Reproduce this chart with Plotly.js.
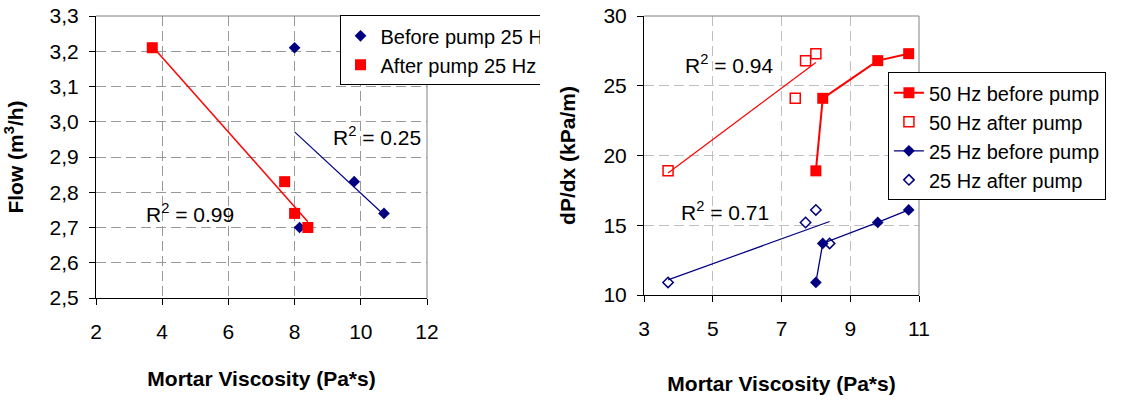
<!DOCTYPE html>
<html><head><meta charset="utf-8">
<script src="https://cdn.plot.ly/plotly-3.0.1.min.js"></script>
<style>
body{margin:0;background:#fff;}
#c1{position:absolute;left:0;top:0;width:540px;height:402px;overflow:hidden;}
#c2{position:absolute;left:540px;top:0;width:588px;height:402px;overflow:hidden;background:#fff;}
</style>
</head><body><div id="c1"></div><div id="c2"></div>
<script>
// ---- Left chart: Flow vs mortar viscosity ----
const flowBeforeVisc = [8.0, 8.15, 9.8, 10.7];
const flowBefore     = [3.21, 2.70, 2.83, 2.74];
const flowAfterVisc  = [3.7, 7.7, 8.0, 8.4];
const flowAfter      = [3.21, 2.83, 2.74, 2.70];
const flowNames = ['Before pump 25 Hz', 'After pump 25 Hz'];
const flowR2Text = ['R<sup>2</sup> = 0.25', 'R<sup>2</sup> = 0.99'];
const flowR2Pos  = [[10.49, 2.96], [4.83, 2.74]];

// ---- Right chart: dP/dx vs mortar viscosity ----
const hz50BeforeVisc = [8.0, 8.2, 9.8, 10.7];
const hz50Before     = [18.9, 24.1, 26.8, 27.3];
const hz50AfterVisc  = [3.7, 7.4, 7.7, 8.0];
const hz50After      = [18.9, 24.1, 26.8, 27.3];
const hz25BeforeVisc = [8.0, 8.2, 9.8, 10.7];
const hz25Before     = [10.9, 13.7, 15.2, 16.1];
const hz25AfterVisc  = [3.7, 7.7, 8.0, 8.4];
const hz25After      = [10.9, 15.2, 16.1, 13.7];
const dpNames = ['50 Hz before pump', '50 Hz after pump', '25 Hz before pump', '25 Hz after pump'];
const dpR2Text = ['R<sup>2</sup> = 0.94', 'R<sup>2</sup> = 0.71'];
const dpR2Pos  = [[5.46, 26.54], [5.36, 16.02]];

const RED = '#FF0000', NAVY = '#000080';
const FAMILY = 'Liberation Sans, Arial, sans-serif';
const FONT = {family: FAMILY, size: 21, color: '#000'};
const LEGFONT = {family: FAMILY, size: 20, color: '#000'};

function fitLine(xs, ys) {
  const n = xs.length;
  const mx = xs.reduce((a, b) => a + b, 0) / n;
  const my = ys.reduce((a, b) => a + b, 0) / n;
  let sxy = 0, sxx = 0;
  for (let i = 0; i < n; i++) { sxy += (xs[i] - mx) * (ys[i] - my); sxx += (xs[i] - mx) ** 2; }
  const b = sxy / sxx, a = my - b * mx;
  const x0 = Math.min(...xs), x1 = Math.max(...xs);
  return {x: [x0, x1], y: [a + b * x0, a + b * x1]};
}

function axisBase(gridcolor) {
  return {
    showline: true, linecolor: '#000', linewidth: 1,
    ticks: 'outside', ticklen: 6, tickcolor: '#000', tickwidth: 1,
    showgrid: true, gridcolor: gridcolor, griddash: '10px,5px', gridwidth: 1,
    zeroline: false, tickfont: FONT, fixedrange: true
  };
}

function borderShapes() {
  return [
    {type: 'line', xref: 'x domain', yref: 'y domain', x0: 0, x1: 1, y0: 1, y1: 1, line: {color: '#808080', width: 1}},
    {type: 'line', xref: 'x domain', yref: 'y domain', x0: 1, x1: 1, y0: 0, y1: 1, line: {color: '#808080', width: 1}}
  ];
}

function r2Annotations(texts, pos) {
  return texts.map((t, i) => ({
    text: t, x: pos[i][0], y: pos[i][1], xref: 'x', yref: 'y',
    showarrow: false, font: FONT, xanchor: 'center', yanchor: 'middle'
  }));
}

// ---------- Left chart ----------
const fitB = fitLine(flowBeforeVisc, flowBefore);
const fitA = fitLine(flowAfterVisc, flowAfter);
const traces1 = [
  {x: fitB.x, y: fitB.y, mode: 'lines', line: {color: NAVY, width: 1.2}, showlegend: false, hoverinfo: 'skip'},
  {x: fitA.x, y: fitA.y, mode: 'lines', line: {color: RED, width: 1.5}, showlegend: false, hoverinfo: 'skip'},
  {x: flowBeforeVisc, y: flowBefore, name: flowNames[0], mode: 'markers', type: 'scatter',
   marker: {symbol: 'diamond', size: 9, color: NAVY}},
  {x: flowAfterVisc, y: flowAfter, name: flowNames[1], mode: 'markers', type: 'scatter',
   marker: {symbol: 'square', size: 11, color: RED}}
];
// the figure is wider than its 540px frame: the legend runs past the frame edge and is cut off, as in the reference
const layout1 = {
  width: 640, height: 402,
  margin: {l: 96, r: 213.3, t: 15.7, b: 103.7},
  paper_bgcolor: '#fff', plot_bgcolor: '#fff',
  separators: ',.', font: FONT,
  showlegend: true,
  legend: {x: 0.7357, xanchor: 'left', y: 1.0025, yanchor: 'top', bgcolor: '#fff',
           bordercolor: '#000', borderwidth: 1, font: LEGFONT, tracegroupgap: 0},
  xaxis: Object.assign(axisBase('#999999'), {
    range: [2, 12], tick0: 2, dtick: 2, ticklabelstandoff: 9,
    title: {text: '<b>Mortar Viscosity (Pa*s)</b>', font: FONT, standoff: 29}
  }),
  yaxis: Object.assign(axisBase('#999999'), {
    range: [2.5, 3.3], tick0: 2.5, dtick: 0.1, tickformat: '.1f', ticklabelstandoff: 6,
    title: {text: '<b>Flow (m<sup>3</sup>/h)</b>', font: FONT, standoff: 20}
  }),
  shapes: borderShapes(),
  annotations: r2Annotations(flowR2Text, flowR2Pos)
};
Plotly.newPlot('c1', traces1, layout1, {staticPlot: true, displayModeBar: false});

// ---------- Right chart ----------
const fit50 = fitLine(hz50AfterVisc, hz50After);
const fit25 = fitLine(hz25AfterVisc, hz25After);
const traces2 = [
  {x: hz50BeforeVisc, y: hz50Before, name: dpNames[0], mode: 'lines+markers',
   line: {color: RED, width: 2}, marker: {symbol: 'square', size: 11, color: RED}},
  {x: hz50AfterVisc, y: hz50After, name: dpNames[1], mode: 'markers',
   marker: {symbol: 'square-open', size: 10, color: RED, line: {color: RED, width: 1.5}}},
  {x: hz25BeforeVisc, y: hz25Before, name: dpNames[2], mode: 'lines+markers',
   line: {color: NAVY, width: 1.3}, marker: {symbol: 'diamond', size: 9, color: NAVY}},
  {x: hz25AfterVisc, y: hz25After, name: dpNames[3], mode: 'markers',
   marker: {symbol: 'diamond-open', size: 8, color: NAVY, line: {color: NAVY, width: 1.5}}},
  {x: fit50.x, y: fit50.y, mode: 'lines', line: {color: RED, width: 1.2}, showlegend: false, hoverinfo: 'skip'},
  {x: fit25.x, y: fit25.y, mode: 'lines', line: {color: NAVY, width: 1.2}, showlegend: false, hoverinfo: 'skip'}
];
const layout2 = {
  width: 588, height: 402,
  margin: {l: 104.3, r: 208.7, t: 15.7, b: 107},
  paper_bgcolor: '#fff', plot_bgcolor: '#fff',
  font: FONT,
  showlegend: true,
  legend: {x: 0.887, xanchor: 'left', y: 0.798, yanchor: 'top', bgcolor: '#fff',
           bordercolor: '#000', borderwidth: 1, font: LEGFONT, tracegroupgap: 0},
  xaxis: Object.assign(axisBase('#bfbfbf'), {
    range: [3, 11], tick0: 3, dtick: 2, ticklabelstandoff: 9,
    title: {text: '<b>Mortar Viscosity (Pa*s)</b>', font: FONT, standoff: 37}
  }),
  yaxis: Object.assign(axisBase('#bfbfbf'), {
    range: [10, 30], tick0: 10, dtick: 5, ticklabelstandoff: 6,
    title: {text: '<b>dP/dx (kPa/m)</b>', font: FONT, standoff: 22}
  }),
  shapes: borderShapes(),
  annotations: r2Annotations(dpR2Text, dpR2Pos)
};
Plotly.newPlot('c2', traces2, layout2, {staticPlot: true, displayModeBar: false});
</script>
</body></html>
